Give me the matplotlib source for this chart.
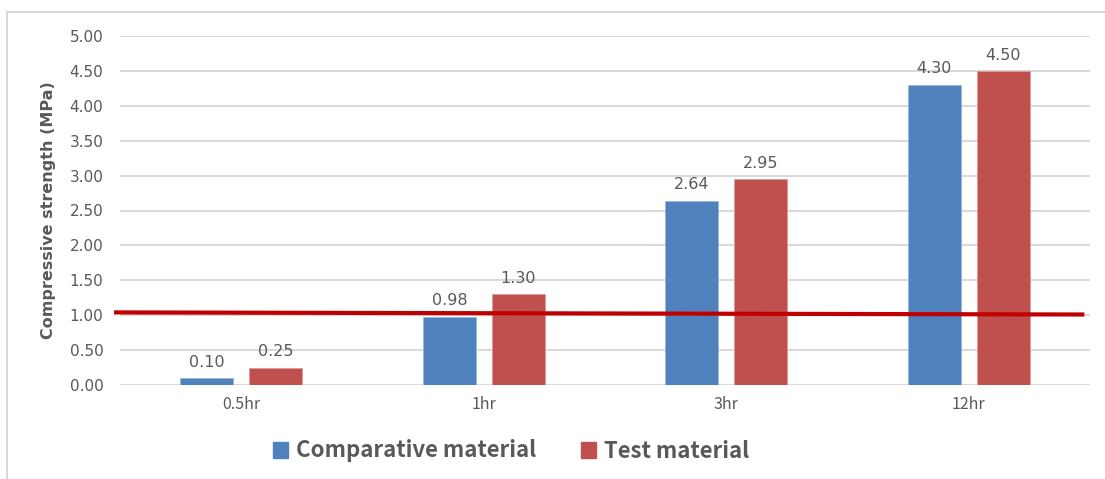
import matplotlib
matplotlib.use("Agg")
import matplotlib.pyplot as plt
import numpy as np
from matplotlib.lines import Line2D
from matplotlib.patches import Patch

plt.rcParams['font.family'] = ['Noto Sans CJK JP', 'DejaVu Sans']

times = ["0.5hr", "1hr", "3hr", "12hr"]
comparative = [0.10, 0.98, 2.64, 4.30]
test = [0.25, 1.30, 2.95, 4.50]
ref_line = [1.04, 1.01]  # red line, left end and right end
yticks = [0.0, 0.5, 1.0, 1.5, 2.0, 2.5, 3.0, 3.5, 4.0, 4.5, 5.0]

blue = "#4f81bd"
red = "#c0504d"
gray = "#595959"

fig = plt.figure(figsize=(11.05, 4.79), dpi=100)
ax = fig.add_axes([120/1105, 1-385/479, 970/1105, 349/479])

x = np.arange(len(times))
w = 0.22
off = 0.142
b1 = ax.bar(x - off, comparative, w, color=blue, edgecolor="#9ab7dc", linewidth=0.6, zorder=3)
b2 = ax.bar(x + off, test, w, color=red, edgecolor="#dc9a98", linewidth=0.6, zorder=3)
for bars, vals in [(b1, comparative), (b2, test)]:
    for r, v in zip(bars, vals):
        ax.text(r.get_x() + r.get_width()/2, v + 0.12, "%.2f" % v, ha="center", va="bottom",
                fontsize=11.5, color=gray, family=["DejaVu Sans"])

ax.set_xlim(-0.5, 3.5)
ax.set_ylim(0, 5)
ax.set_yticks(yticks)
ax.set_yticklabels(["%.2f" % t for t in yticks], fontsize=11, color=gray, family=["DejaVu Sans"])
ax.set_xticks(x)
ax.set_xticklabels(times, fontsize=11.5, color=gray)
ax.tick_params(length=0, pad=12)
ax.tick_params(axis="x", pad=8)
ax.grid(axis="y", color="#d9d9d9", linewidth=1.5, zorder=0)
for s in ax.spines.values():
    s.set_visible(False)

ax.set_ylabel("Compressive strength (MPa)", fontsize=11.5, color=gray, fontweight="bold",
              family=["DejaVu Sans"], labelpad=10)

# red threshold line
ax.add_line(Line2D([-0.004, 0.992], ref_line, transform=ax.get_yaxis_transform(),
                   color="#c00000", linewidth=3, zorder=4, clip_on=False))

handles = [Patch(color=blue, label="Comparative material"), Patch(color=red, label="Test material")]
fig.legend(handles=handles, loc="center", bbox_to_anchor=(511/1105, 1-451/479), ncol=2, frameon=False,
           prop={"size": 16, "weight": "bold"}, labelcolor=gray, handlelength=0.7, handleheight=0.7,
           handletextpad=0.35, columnspacing=2.0)

# outer frame
fig.add_artist(Line2D([7/1105, 7/1105], [0, 1-12/479], color="#d9d9d9", linewidth=1.5))
fig.add_artist(Line2D([7/1105, 1], [1-12/479, 1-12/479], color="#d9d9d9", linewidth=1.5))

fig.savefig("out.png", dpi=100)
